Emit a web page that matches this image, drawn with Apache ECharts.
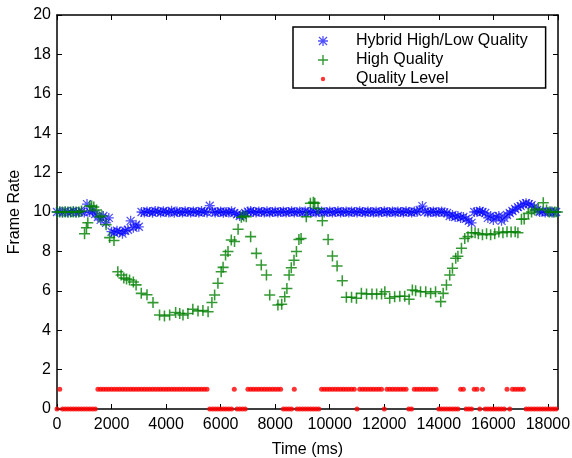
<!DOCTYPE html>
<html>
<head>
<meta charset="utf-8">
<script src="https://cdn.jsdelivr.net/npm/echarts@6/dist/echarts.min.js"></script>
<style>
  html, body { margin: 0; padding: 0; background: #fff; }
  #chart { width: 572px; height: 458px; }
</style>
</head>
<body>
<div id="chart"></div>
<script>
// sample times (ms) shared by the hybrid run and the quality level trace
const sampleTimes = [
  0, 100, 200, 300, 400, 500, 600, 700, 800, 900,
  1000, 1100, 1200, 1300, 1400, 1500, 1600, 1700, 1800, 1900,
  2000, 2100, 2200, 2300, 2400, 2500, 2600, 2700, 2800, 2900,
  3000, 3100, 3200, 3300, 3400, 3500, 3600, 3700, 3800, 3900,
  4000, 4100, 4200, 4300, 4400, 4500, 4600, 4700, 4800, 4900,
  5000, 5100, 5200, 5300, 5400, 5500, 5600, 5700, 5800, 5900,
  6000, 6100, 6200, 6300, 6400, 6500, 6600, 6700, 6800, 6900,
  7000, 7100, 7200, 7300, 7400, 7500, 7600, 7700, 7800, 7900,
  8000, 8100, 8200, 8300, 8400, 8500, 8600, 8700, 8800, 8900,
  9000, 9100, 9200, 9300, 9400, 9500, 9600, 9700, 9800, 9900,
  10000, 10100, 10200, 10300, 10400, 10500, 10600, 10700, 10800, 10900,
  11000, 11100, 11200, 11300, 11400, 11500, 11600, 11700, 11800, 11900,
  12000, 12100, 12200, 12300, 12400, 12500, 12600, 12700, 12800, 12900,
  13000, 13100, 13200, 13300, 13400, 13500, 13600, 13700, 13800, 13900,
  14000, 14100, 14200, 14300, 14400, 14500, 14600, 14700, 14800, 14900,
  15000, 15100, 15200, 15300, 15400, 15500, 15600, 15700, 15800, 15900,
  16000, 16100, 16200, 16300, 16400, 16500, 16600, 16700, 16800, 16900,
  17000, 17100, 17200, 17300, 17400, 17500, 17600, 17700, 17800, 17900,
  18000, 18100, 18200, 18300
];

const hybridRate = [
  10.0, 10.02, 9.98, 10.03, 9.97, 10.0, 10.04, 9.98, 10.0, 10.02,
  9.97, 10.4, 10.0, 10.05, 9.9, 9.75, 9.6, 9.8, 9.45, 9.7,
  9.0, 8.95, 9.05, 9.0, 8.9, 9.05, 9.1, 9.55, 9.2, 9.35,
  9.25, 10.0, 9.97, 10.03, 10.0, 9.96, 10.05, 10.02, 9.97, 10.04,
  10.0, 9.98, 10.06, 9.96, 10.02, 10.0, 9.97, 10.04, 10.0, 9.98,
  10.03, 10.0, 9.97, 10.05, 10.0, 9.98, 10.32, 10.02, 9.97, 10.0,
  10.03, 9.96, 10.0, 9.98, 10.04, 9.95, 9.88, 9.8, 9.85, 9.95,
  10.02, 10.05, 10.0, 9.97, 10.03, 10.0, 9.98, 10.04, 9.97, 10.0,
  10.02, 9.98, 10.0, 10.03, 9.97, 10.0, 10.04, 9.98, 10.0, 10.02,
  9.97, 10.03, 10.0, 9.98, 10.04, 9.97, 10.0, 10.02, 9.98, 10.0,
  10.03, 9.97, 10.0, 10.04, 9.98, 10.0, 10.02, 9.97, 10.03, 10.0,
  9.98, 10.04, 10.0, 9.97, 10.02, 10.0, 9.98, 10.03, 9.97, 10.0,
  10.04, 9.98, 10.0, 10.02, 9.97, 10.03, 10.0, 9.98, 10.04, 10.0,
  9.97, 10.02, 10.0, 10.1, 10.3, 10.02, 9.98, 10.0, 10.03, 9.97,
  10.0, 10.02, 9.98, 9.95, 9.8, 9.85, 9.75, 9.8, 9.7, 9.75,
  9.65, 9.55, 9.45, 10.0, 10.0, 10.05, 10.0, 9.95, 9.7, 9.8,
  9.6, 9.75, 9.8, 9.55, 9.7, 9.85, 9.95, 10.05, 10.15, 10.25,
  10.3, 10.4, 10.45, 10.4, 10.35, 10.25, 10.1, 10.0, 10.02, 9.98,
  10.0, 10.02, 9.98, 10.0
];

const qualityLevel = [
  0, 1, 0, 0, 0, 0, 0, 0, 0, 0,
  0, 0, 0, 0, 0, 1, 1, 1, 1, 1,
  1, 1, 1, 1, 1, 1, 1, 1, 1, 1,
  1, 1, 1, 1, 1, 1, 1, 1, 1, 1,
  1, 1, 1, 1, 1, 1, 1, 1, 1, 1,
  1, 1, 1, 1, 1, 1, 0, 0, 0, 0,
  0, 0, 0, 0, 0, 1, 0, 0, 0, 0,
  1, 1, 1, 1, 1, 1, 1, 1, 1, 1,
  1, 1, 1, 0, 0, 0, 0, 1, 0, 0,
  0, 0, 0, 0, 0, 0, 0, 1, 1, 1,
  1, 1, 1, 1, 1, 1, 1, 1, 1, 1,
  0, 1, 1, 1, 1, 1, 1, 1, 1, 1,
  0, 1, 1, 1, 1, 1, 1, 1, 1, 0,
  0, 1, 1, 1, 1, 1, 1, 1, 1, 1,
  0, 0, 0, 0, 0, 0, 0, 0, 1, 1,
  0, 0, 0, 1, 1, 0, 1, 0, 0, 0,
  0, 0, 0, 0, 0, 1, 0, 1, 1, 1,
  1, 1, 0, 0, 0, 0, 0, 0, 0, 0,
  0, 0, 0, 0
];

// high quality run has its own sample times
const highTimes = [
  0, 100, 200, 300, 400, 500, 600, 700, 800, 900,
  1010, 1080, 1130, 1200, 1270, 1350, 1450, 1560, 1650, 1800, 1930, 2090,
  2230, 2350, 2450, 2550, 2660, 2800, 2900, 3090, 3300, 3520,
  3760, 3940, 4130, 4350, 4500, 4620, 4800, 4980, 5170, 5350, 5540,
  5680, 5780, 5900, 6020, 6090, 6180, 6270, 6390, 6510, 6640, 6760, 6850, 6940,
  7100, 7310, 7490, 7680, 7800, 8100, 8240,
  8350, 8430, 8510, 8590, 8690, 8780, 8870, 8950, 9140, 9290, 9400, 9450, 9570,
  9730, 9940, 10100, 10270, 10460, 10610,
  10800, 10980, 11160, 11350, 11550, 11720, 11900, 12020, 12200, 12380,
  12570, 12750, 12910, 13030, 13150, 13330, 13520, 13700, 13880,
  14070, 14160, 14280, 14400, 14500, 14620, 14700, 14830, 14950, 15070, 15200,
  15330, 15450, 15600, 15750, 15900, 16050, 16200, 16350, 16500, 16650, 16800, 16900,
  17030, 17130, 17280, 17400, 17520, 17650, 17830, 17950, 18050, 18150, 18250, 18350
];
const highRate = [
  10, 10, 10, 10, 10, 10, 10, 10, 10, 10.05,
  8.9, 9.2, 9.45, 10.3, 10.3, 10.25, 10.1, 9.75, 9.8, 9.35, 8.7, 8.55,
  6.97, 6.8, 6.65, 6.6, 6.55, 6.45, 6.3, 5.87, 5.8, 5.4,
  4.77, 4.72, 4.77, 4.9, 4.85, 4.77, 4.85, 5.06, 4.98, 5.0, 4.94,
  5.41, 5.79, 6.38, 6.97, 7.19, 7.82, 8.0, 8.58, 8.5, 9.12, 9.73, 9.8, 9.76,
  8.75, 7.9, 7.31, 6.8, 5.79, 5.28, 5.32,
  5.7, 6.12, 6.8, 7.17, 7.55, 8.0, 8.6, 8.65, 9.76, 10.44, 10.5, 10.45, 10.18,
  9.56, 8.6, 7.77, 7.26, 6.51, 5.67,
  5.67, 5.62, 5.87, 5.84, 5.84, 5.84, 5.84, 5.95, 5.62, 5.7,
  5.72, 5.72, 5.57, 6.04, 6.0, 5.95, 5.95, 5.87, 5.95,
  5.45, 5.87, 6.29, 6.8, 7.14, 7.65, 7.75, 8.16, 8.66, 8.75, 8.95,
  8.95, 8.9, 8.85, 8.9, 8.85, 8.9, 8.98, 8.95, 9.0, 8.98, 9.0, 8.95,
  9.63, 9.65, 9.93, 10.0, 10.1, 10.15, 10.47, 10.1, 10.0, 10.0, 10.0, 10.0
];

const seriesNames = ["Hybrid High/Low Quality", "High Quality", "Quality Level"];
const xTicks = { min: 0, max: 18370, step: 2000 };
const yTicks = { min: 0, max: 20, step: 2 };

// marker shapes (matlab style * and +)
const starPath = "path://M4.35 0H5.65V10H4.35Z M0 4.35H10V5.65H0Z M0.55 1.45L1.45 0.55L9.45 8.55L8.55 9.45Z M8.55 0.55L9.45 1.45L1.45 9.45L0.55 8.55Z";
const plusPath = "path://M4.3 0H5.7V10H4.3Z M0 4.3H10V5.7H0Z";
const dotLegend = "path://M0 0M10 10M5 2.8A2.2 2.2 0 1 1 5 7.2A2.2 2.2 0 1 1 5 2.8Z";

const pairs = (xs, ys) => xs.map((x, i) => [x, ys[i]]);

const chart = echarts.init(document.getElementById("chart"));
const FONT = "Liberation Sans";

const axisCommon = {
  type: "value",
  axisLine: { show: true, onZero: false, lineStyle: { color: "#000", width: 1.5 } },
  axisTick: { show: true, inside: true, length: 5, lineStyle: { color: "#000", width: 1 } },
  splitLine: { show: false },
};

chart.setOption({
  animation: false,
  backgroundColor: "#fff",
  textStyle: { fontFamily: FONT },
  grid: { left: 57, right: 14, top: 15, bottom: 49, containLabel: false, outerBoundsMode: "none" },
  legend: {
    orient: "vertical",
    left: 293,
    top: 27,
    padding: [6, 18, 1, 25],
    itemGap: 3,
    itemWidth: 56,
    itemHeight: 10,
    borderColor: "#000",
    borderWidth: 1.5,
    backgroundColor: "#fff",
    textStyle: { fontFamily: FONT, fontSize: 16, color: "#000" },
    data: [
      { name: seriesNames[0], icon: starPath },
      { name: seriesNames[1], icon: plusPath },
      { name: seriesNames[2], icon: dotLegend },
    ],
  },
  xAxis: [
    Object.assign({}, axisCommon, {
      position: "bottom",
      min: xTicks.min,
      max: xTicks.max,
      interval: xTicks.step,
      name: "Time (ms)",
      nameLocation: "middle",
      nameGap: 33,
      nameTextStyle: { fontFamily: FONT, fontSize: 16, color: "#000" },
      axisLabel: {
        fontFamily: FONT, fontSize: 16, color: "#000", margin: 8, showMaxLabel: false,
        formatter: (v) => String(v),
      },
    }),
    Object.assign({}, axisCommon, {
      position: "top",
      min: xTicks.min,
      max: xTicks.max,
      interval: xTicks.step,
      axisLabel: { show: false },
    }),
  ],
  yAxis: [
    Object.assign({}, axisCommon, {
      position: "left",
      min: yTicks.min,
      max: yTicks.max,
      interval: yTicks.step,
      name: "Frame Rate",
      nameLocation: "middle",
      nameGap: 32,
      nameTextStyle: { fontFamily: FONT, fontSize: 16, color: "#000" },
      axisLabel: { fontFamily: FONT, fontSize: 16, color: "#000", margin: 6 },
    }),
    Object.assign({}, axisCommon, {
      position: "right",
      min: yTicks.min,
      max: yTicks.max,
      interval: yTicks.step,
      axisLabel: { show: false },
    }),
  ],
  series: [
    {
      name: seriesNames[0],
      type: "scatter",
      symbol: starPath,
      symbolSize: 10,
      itemStyle: { color: "rgba(0,0,255,0.85)" },
      data: pairs(sampleTimes, hybridRate),
    },
    {
      name: seriesNames[1],
      type: "scatter",
      symbol: plusPath,
      symbolSize: 11,
      itemStyle: { color: "#008000" },
      data: pairs(highTimes, highRate),
    },
    {
      name: seriesNames[2],
      type: "scatter",
      symbol: "circle",
      symbolSize: 5,
      itemStyle: { color: "#ff0000" },
      data: pairs(sampleTimes, qualityLevel),
    },
  ],
});
</script>
</body>
</html>
